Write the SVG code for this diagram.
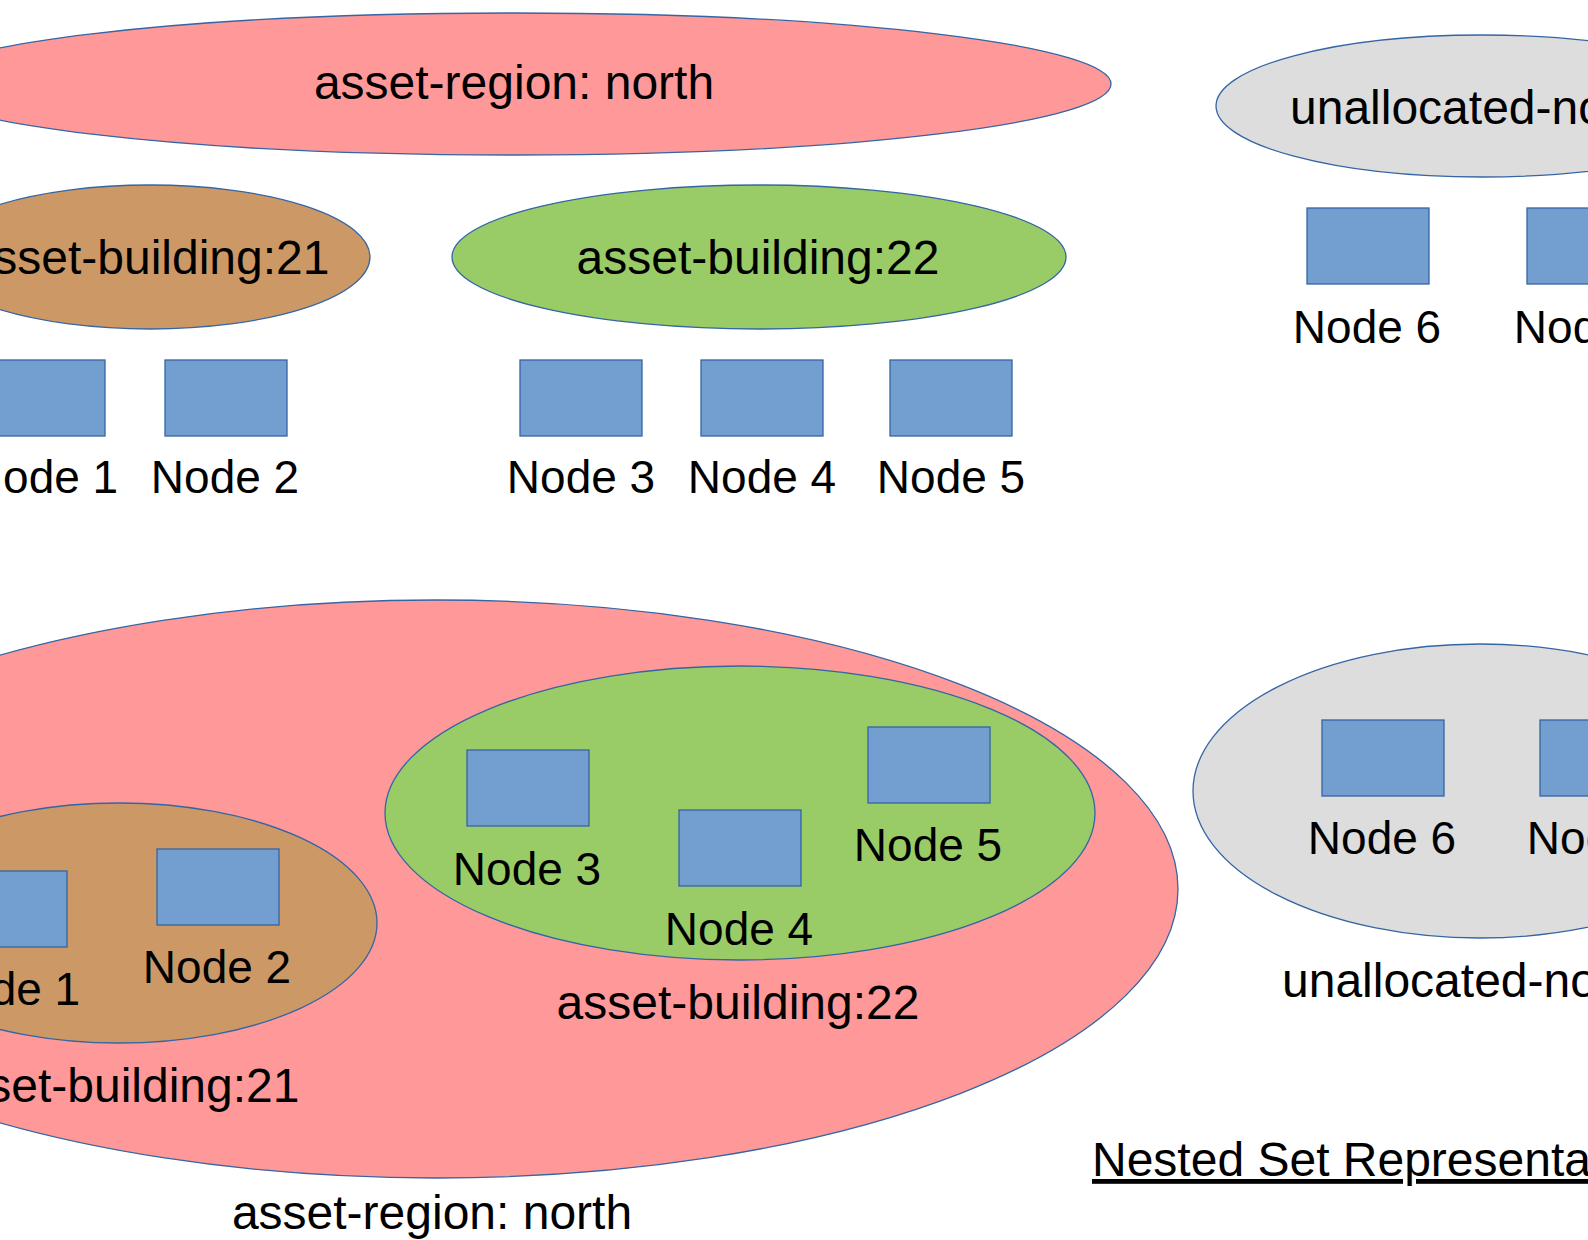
<svg xmlns="http://www.w3.org/2000/svg" width="1588" height="1240" viewBox="0 0 1588 1240">
<style>
.region{fill:#ff9999;stroke:#3465a4;stroke-width:1.3}
.b21{fill:#cc9966;stroke:#3465a4;stroke-width:1.3}
.b22{fill:#99cc66;stroke:#3465a4;stroke-width:1.3}
.unal{fill:#dddddd;stroke:#3465a4;stroke-width:1.3}
.node{fill:#729fcf;stroke:#3465a4;stroke-width:1.3}
text{font-family:"Liberation Sans",Arial,sans-serif;fill:#000}
.t{font-size:48px}
.n{font-size:46px;text-anchor:middle}
.c{text-anchor:middle}
</style>
<rect x="0" y="0" width="1588" height="1240" fill="#ffffff"/>
<g id="tree">
  <g id="top-region-north">
    <ellipse class="region" cx="514" cy="84" rx="597" ry="71"/>
    <text class="t c" x="514" y="99">asset-region: north</text>
  </g>
  <g id="top-unallocated">
    <ellipse class="unal" cx="1482" cy="106" rx="266" ry="71"/>
    <text class="t" x="1290" y="124">unallocated-nodes</text>
  </g>
  <g id="top-building-21">
    <ellipse class="b21" cx="150" cy="257" rx="220" ry="72"/>
    <text class="t c" x="148" y="274">asset-building:21</text>
  </g>
  <g id="top-building-22">
    <ellipse class="b22" cx="759" cy="257" rx="307" ry="72"/>
    <text class="t c" x="758" y="274">asset-building:22</text>
  </g>
  <g id="top-node-1"><rect class="node" x="-17" y="360" width="122" height="76"/><text class="n" x="44" y="493">Node 1</text></g>
  <g id="top-node-2"><rect class="node" x="165" y="360" width="122" height="76"/><text class="n" x="225" y="493">Node 2</text></g>
  <g id="top-node-3"><rect class="node" x="520" y="360" width="122" height="76"/><text class="n" x="581" y="493">Node 3</text></g>
  <g id="top-node-4"><rect class="node" x="701" y="360" width="122" height="76"/><text class="n" x="762" y="493">Node 4</text></g>
  <g id="top-node-5"><rect class="node" x="890" y="360" width="122" height="76"/><text class="n" x="951" y="493">Node 5</text></g>
  <g id="top-node-6"><rect class="node" x="1307" y="208" width="122" height="76"/><text class="n" x="1367" y="343">Node 6</text></g>
  <g id="top-node-7"><rect class="node" x="1527" y="208" width="122" height="76"/><text class="n" x="1588" y="343">Node 7</text></g>
</g>
<g id="nested">
  <g id="set-region-north">
    <ellipse class="region" cx="436" cy="889" rx="742" ry="289"/>
    <text class="t c" x="432" y="1229">asset-region: north</text>
  </g>
  <g id="set-building-22">
    <ellipse class="b22" cx="740" cy="813" rx="355" ry="147"/>
    <text class="t c" x="738" y="1019">asset-building:22</text>
  </g>
  <g id="set-building-21">
    <ellipse class="b21" cx="119" cy="923" rx="258" ry="120"/>
    <text class="t c" x="118" y="1102">asset-building:21</text>
  </g>
  <g id="set-unallocated">
    <ellipse class="unal" cx="1480" cy="791" rx="287" ry="147"/>
    <text class="t" x="1282" y="997">unallocated-nodes</text>
  </g>
  <g id="set-node-1"><rect class="node" x="-55" y="871" width="122" height="76"/><text class="n" x="6" y="1005">Node 1</text></g>
  <g id="set-node-2"><rect class="node" x="157" y="849" width="122" height="76"/><text class="n" x="217" y="983">Node 2</text></g>
  <g id="set-node-3"><rect class="node" x="467" y="750" width="122" height="76"/><text class="n" x="527" y="885">Node 3</text></g>
  <g id="set-node-4"><rect class="node" x="679" y="810" width="122" height="76"/><text class="n" x="739" y="945">Node 4</text></g>
  <g id="set-node-5"><rect class="node" x="868" y="727" width="122" height="76"/><text class="n" x="928" y="861">Node 5</text></g>
  <g id="set-node-6"><rect class="node" x="1322" y="720" width="122" height="76"/><text class="n" x="1382" y="854">Node 6</text></g>
  <g id="set-node-7"><rect class="node" x="1540" y="720" width="122" height="76"/><text class="n" x="1601" y="854">Node 7</text></g>
  <g id="caption">
    <text class="t" x="1092" y="1176" text-decoration="underline">Nested Set Representation</text>
  </g>
</g>
<g id="connectors"/>
</svg>
